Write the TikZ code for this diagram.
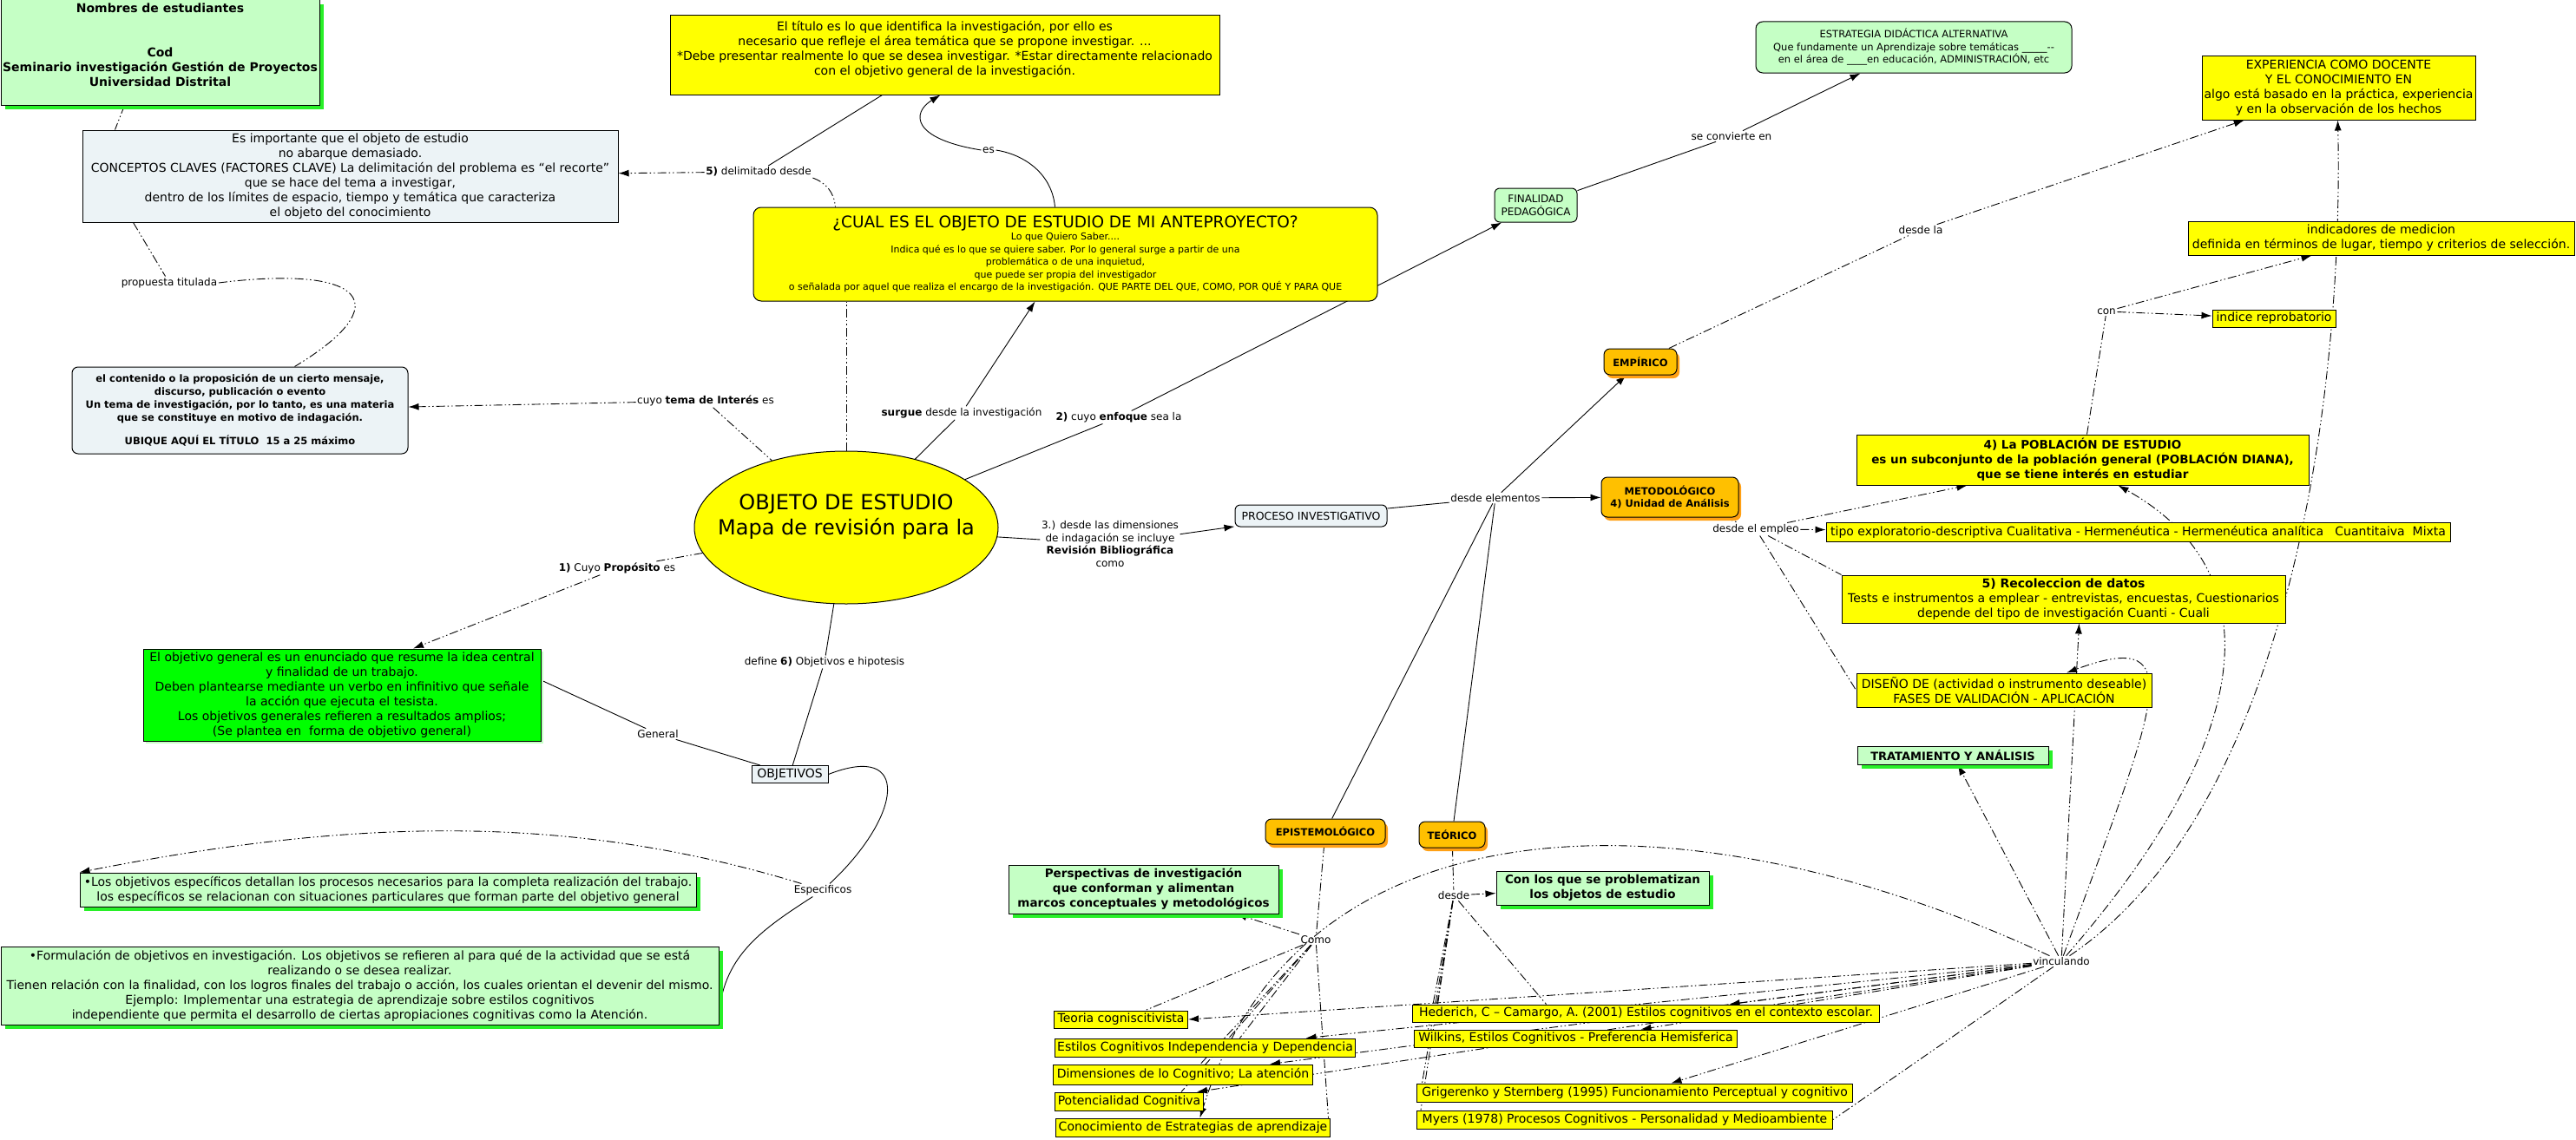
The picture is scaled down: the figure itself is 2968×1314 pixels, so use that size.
\documentclass[tikz,border=0pt]{standalone}
\usepackage{fontspec}
\setmainfont{DejaVu Sans}
\usepackage{tikz}
\usetikzlibrary{shapes.geometric, arrows.meta, positioning, calc, shadows}
\definecolor{mapyellow}{RGB}{255,255,0}
\definecolor{mappale}{RGB}{197,255,197}
\definecolor{mapshade}{RGB}{40,240,40}
\definecolor{mapgreen}{RGB}{0,255,0}
\definecolor{mapgray}{RGB}{236,243,246}
\definecolor{maporange}{RGB}{255,192,0}
\definecolor{maporshade}{RGB}{255,160,20}
\pgfdeclarelayer{background}
\pgfsetlayers{background,main}
\tikzset{
  mapbox/.style={draw, line width=1pt, inner sep=2pt, align=center, font=\fontsize{14}{17}\selectfont},
  ybox/.style={mapbox, fill=mapyellow},
  bbox/.style={mapbox, fill=mapgray},
  pbox/.style={mapbox, fill=mappale},
  gbox/.style={pbox, drop shadow={shadow xshift=5pt, shadow yshift=-5pt, fill=mapshade, opacity=1}},
  obox/.style={mapbox, fill=maporange, rounded corners=7pt, font=\bfseries\fontsize{11.5}{14}\selectfont,
               drop shadow={shadow xshift=3pt, shadow yshift=-4pt, fill=maporshade, opacity=1}},
  lbl/.style={inner sep=1.5pt, align=center, font=\fontsize{12}{14.5}\selectfont},
  link/.style={line width=0.9pt},
  dlink/.style={line width=0.9pt, dash pattern=on 10pt off 3pt on 1.5pt off 3pt on 1.5pt off 3pt},
  arr/.style={-{Latex[length=12pt,width=8pt]}},
}
\begin{document}
\begin{tikzpicture}[x=1pt,y=1pt]
    \useasboundingbox (0,0) rectangle (2968,-1314);

    % left column
    \node[gbox, minimum width=367pt, minimum height=121pt, font=\bfseries\fontsize{14}{17}\selectfont] (nombres) at (184.5,-60.5)
        {Nombres de estudiantes\\ \\ \\ Cod\\ Seminario investigación Gestión de Proyectos\\ Universidad Distrital\\ \mbox{}};
    \node[bbox, minimum width=617pt, minimum height=106pt] (importante) at (403.5,-203)
        {Es importante que el objeto de estudio\\ no abarque demasiado.\\ CONCEPTOS CLAVES (FACTORES CLAVE) La delimitación del problema es “el recorte”\\ que se hace del tema a investigar,\\ dentro de los límites de espacio, tiempo y temática que caracteriza\\ el objeto del conocimiento};
    \node[bbox, rounded corners=7pt, minimum width=387pt, minimum height=100pt, font=\bfseries\fontsize{11.5}{15}\selectfont] (contenido) at (276.5,-473)
        {el contenido o la proposición de un cierto mensaje,\\ discurso, publicación o evento\\ Un tema de investigación, por lo tanto, es una materia\\ que se constituye en motivo de indagación.\\[12pt] UBIQUE AQUÍ EL TÍTULO~~15 a 25 máximo};
    \node[mapbox, fill=mapgreen, minimum width=458pt, minimum height=106pt,
          drop shadow={shadow xshift=3pt, shadow yshift=-3pt, fill=mappale, opacity=1}] (objgen) at (394,-801)
        {El objetivo general es un enunciado que resume la idea central\\ y finalidad de un trabajo.\\ Deben plantearse mediante un verbo en infinitivo que señale\\ la acción que ejecuta el tesista.\\ Los objetivos generales refieren a resultados amplios;\\ (Se plantea en~~forma de objetivo general)};
    \node[gbox, minimum width=710pt, minimum height=39pt] (losobj) at (447,-1025.5)
        {•Los objetivos específicos detallan los procesos necesarios para la completa realización del trabajo.\\ los específicos se relacionan con situaciones particulares que forman parte del objetivo general};
    \node[gbox, minimum width=827pt, minimum height=90pt] (formul) at (414.5,-1136)
        {•Formulación de objetivos en investigación. Los objetivos se refieren al para qué de la actividad que se está\\ realizando o se desea realizar.\\ Tienen relación con la finalidad, con los logros finales del trabajo o acción, los cuales orientan el devenir del mismo.\\ Ejemplo: Implementar una estrategia de aprendizaje sobre estilos cognitivos\\ independiente que permita el desarrollo de ciertas apropiaciones cognitivas como la Atención.};

    % centre
    \node[ybox, minimum width=633pt, minimum height=91pt] (titulo) at (1088.5,-63.5)
        {El título es lo que identifica la investigación, por ello es\\ necesario que refleje el área temática que se propone investigar. ...\\ *Debe presentar realmente lo que se desea investigar. *Estar directamente relacionado\\ con el objetivo general de la investigación.\\ \mbox{}};
    \node[ybox, rounded corners=9pt, minimum width=719pt, minimum height=108pt, font=\fontsize{11}{14.5}\selectfont] (cual) at (1227.5,-293)
        {{\fontsize{18.5}{22}\selectfont ¿CUAL ES EL OBJETO DE ESTUDIO DE MI ANTEPROYECTO?}\\ Lo que Quiero Saber....\\ Indica qué es lo que se quiere saber. Por lo general surge a partir de una\\ problemática o de una inquietud,\\ que puede ser propia del investigador\\ o señalada por aquel que realiza el encargo de la investigación. QUE PARTE DEL QUE, COMO, POR QUÉ Y PARA QUE};
    \node[ellipse, draw, line width=1pt, fill=mapyellow, inner xsep=-40pt, inner ysep=0pt,
          minimum width=350pt, minimum height=176pt, align=center,
          font=\fontsize{24}{29}\selectfont] (main) at (975,-608)
        {OBJETO DE ESTUDIO\\ Mapa de revisión para la\\ \mbox{}};
    \node[bbox, inner sep=1pt, minimum width=88pt, minimum height=20pt] (objs) at (910,-892.5) {OBJETIVOS};
    \node[bbox, rounded corners=6pt, minimum width=175pt, minimum height=25pt, font=\fontsize{12.5}{15}\selectfont] (proceso) at (1510.5,-594.5) {PROCESO INVESTIGATIVO};

    % right part
    \node[pbox, rounded corners=6pt, minimum width=95pt, minimum height=39pt, font=\fontsize{12}{15}\selectfont] (final) at (1769.5,-236.5) {FINALIDAD\\ PEDAGÓGICA};
    \node[pbox, rounded corners=8pt, minimum width=364pt, minimum height=59pt, font=\fontsize{11.5}{14.5}\selectfont] (estrat) at (2205,-54.5)
        {ESTRATEGIA DIDÁCTICA ALTERNATIVA\\ Que fundamente un Aprendizaje sobre temáticas \_\_\_\_\_-{}-\\ en el área de \_\_\_\_en educación, ADMINISTRACIÓN, etc};
    \node[ybox, minimum width=315pt, minimum height=73pt] (exper) at (2694.5,-101.5)
        {EXPERIENCIA COMO DOCENTE\\ Y EL CONOCIMIENTO EN\\ algo está basado en la práctica, experiencia\\ y en la observación de los hechos};
    \node[ybox, minimum width=445pt, minimum height=39pt] (indic) at (2743.5,-274.5)
        {indicadores de medicion\\ definida en términos de lugar, tiempo y criterios de selección.};
    \node[ybox, inner sep=1pt, minimum width=142pt, minimum height=20pt] (indice) at (2620,-367) {indice reprobatorio};
    \node[obox, minimum width=84pt, minimum height=30pt] (empir) at (1890,-417) {EMPÍRICO};
    \node[obox, minimum width=158pt, minimum height=46pt] (metod) at (1924,-573) {METODOLÓGICO\\ 4) Unidad de Análisis};
    \node[ybox, minimum width=521pt, minimum height=58pt, font=\bfseries\fontsize{13.5}{17}\selectfont] (pobl) at (2399.5,-530)
        {4) La POBLACIÓN DE ESTUDIO\\ es un subconjunto de la población general (POBLACIÓN DIANA),\\ que se tiene interés en estudiar};
    \node[ybox, inner sep=1pt, minimum width=719pt, minimum height=22pt] (tipo) at (2463.5,-613)
        {tipo exploratorio-descriptiva Cualitativa - Hermenéutica - Hermenéutica analítica~~~Cuantitaiva~~Mixta};
    \node[ybox, minimum width=511pt, minimum height=55pt] (recol) at (2377.5,-690.5)
        {\textbf{5) Recoleccion de datos}\\ Tests e instrumentos a emplear - entrevistas, encuestas, Cuestionarios\\ depende del tipo de investigación Cuanti - Cuali};
    \node[ybox, minimum width=340pt, minimum height=39pt] (disen) at (2309,-795.5)
        {DISEÑO DE (actividad o instrumento deseable)\\ FASES DE VALIDACIÓN - APLICACIÓN};
    \node[gbox, inner sep=1pt, minimum width=220pt, minimum height=21pt, font=\bfseries\fontsize{13}{16}\selectfont] (tratam) at (2250,-870.5) {TRATAMIENTO Y ANÁLISIS};

    % bottom part
    \node[obox, minimum width=138pt, minimum height=29pt] (epist) at (1527,-958.5) {EPISTEMOLÓGICO};
    \node[obox, minimum width=76pt, minimum height=30pt] (teor) at (1673,-962) {TEÓRICO};
    \node[gbox, minimum width=311pt, minimum height=56pt, font=\bfseries\fontsize{13.5}{17}\selectfont] (persp) at (1317.5,-1025)
        {Perspectivas de investigación\\ que conforman y alimentan\\ marcos conceptuales y metodológicos};
    \node[gbox, minimum width=245pt, minimum height=39pt, font=\bfseries\fontsize{13.5}{17}\selectfont] (conlos) at (1846.5,-1023.5)
        {Con los que se problematizan\\ los objetos de estudio};
    \node[ybox, inner sep=1pt, anchor=west, minimum width=154pt, minimum height=20pt] (teoria) at (1214,-1175) {Teoria cogniscitivista};
    \node[ybox, inner sep=1pt, anchor=west, minimum width=346pt, minimum height=21pt] (estilos) at (1215,-1207.5) {Estilos Cognitivos Independencia y Dependencia};
    \node[ybox, inner sep=1pt, anchor=west, minimum width=299pt, minimum height=23pt] (dimen) at (1213,-1238.5) {Dimensiones de lo Cognitivo; La atención};
    \node[ybox, inner sep=1pt, anchor=west, minimum width=171pt, minimum height=21pt] (poten) at (1215,-1269.5) {Potencialidad Cognitiva};
    \node[ybox, inner sep=1pt, anchor=west, minimum width=316pt, minimum height=21pt] (conoc) at (1216,-1299.5) {Conocimiento de Estrategias de aprendizaje};
    \node[ybox, inner sep=1pt, anchor=west, minimum width=538pt, minimum height=20pt] (heder) at (1627,-1168) {Hederich, C – Camargo, A. (2001) Estilos cognitivos en el contexto escolar.};
    \node[ybox, inner sep=1pt, anchor=west, minimum width=372pt, minimum height=20pt] (wilk) at (1629,-1197) {Wilkins, Estilos Cognitivos - Preferencia Hemisferica};
    \node[ybox, inner sep=1pt, anchor=west, minimum width=502pt, minimum height=21pt] (grig) at (1632,-1259.5) {Grigerenko y Sternberg (1995) Funcionamiento Perceptual y cognitivo};
    \node[ybox, inner sep=1pt, anchor=west, minimum width=479pt, minimum height=21pt] (myers) at (1632,-1290.5) {Myers (1978) Procesos Cognitivos - Personalidad y Medioambiente};

    % linking phrases
    \node[lbl] (lprop) at (195,-326) {propuesta titulada};
    \node[lbl] (ldelim) at (874,-198) {\textbf{5)} delimitado desde};
    \node[lbl] (les) at (1139,-173) {es};
    \node[lbl] (ltema) at (813,-462) {cuyo \textbf{tema de Interés} es};
    \node[lbl] (lsurgue) at (1108,-476) {\textbf{surgue} desde la investigación};
    \node[lbl] (lenfoque) at (1289,-481) {\textbf{2)} cuyo \textbf{enfoque} sea la};
    \node[lbl] (lproposito) at (711,-655) {\textbf{1)} Cuyo \textbf{Propósito} es};
    \node[lbl] (ldim) at (1279,-627) {3.) desde las dimensiones\\ de indagación se incluye\\ \textbf{Revisión Bibliográfica}\\ como};
    \node[lbl] (ldefine) at (950,-763) {define \textbf{6)} Objetivos e hipotesis};
    \node[lbl] (lgeneral) at (758,-846) {General};
    \node[lbl] (lespec) at (948,-1026) {Especificos};
    \node[lbl] (lconv) at (1995,-157) {se convierte en};
    \node[lbl] (ldesdela) at (2213,-265) {desde la};
    \node[lbl] (lcon) at (2427,-359) {con};
    \node[lbl] (lelem) at (1723,-574) {desde elementos};
    \node[lbl] (lempleo) at (2023,-610) {desde el empleo};
    \node[lbl] (lcomo) at (1516,-1083) {Como};
    \node[lbl] (ldesde) at (1675,-1032) {desde};
    \node[lbl] (lvinc) at (2375,-1108) {vinculando};

    \begin{pgfonlayer}{background}
        \fill[white] (0,0) rectangle (2968,-1314);
        % upper left
        \draw[dlink] ([xshift=-41pt]nombres.south) -- ([xshift=-271pt]importante.north);
        \draw[dlink] ([xshift=-250pt]importante.south) -- (lprop);
        \draw[dlink] (lprop.east) .. controls (420,-305) and (460,-350) .. ([xshift=63pt]contenido.north);
        \draw[dlink] (ltema) -- (main);
        \draw[dlink, arr] (ltema) -- (contenido);
        \draw[link] ([xshift=-72pt]titulo.south) -- (ldelim);
        \draw[dlink, arr] (ldelim) -- (importante);
        \draw[dlink] (ldelim.south east) to[out=-20, in=95] ([xshift=-265pt]cual.north);
        \draw[link] ([xshift=-12pt]cual.north) .. controls (1212,-200) and (1180,-178) .. (les.east);
        \draw[link, arr] (les.west) .. controls (1050,-160) and (1050,-130) .. ([xshift=-5pt]titulo.south);
        % around the ellipse
        \draw[dlink] (main.north) -- (main.north |- cual.south);
        \draw[link] (main) -- (lsurgue);
        \draw[link, arr] (lsurgue) -- ([xshift=-35pt]cual.south);
        \draw[link] (main) -- (lenfoque);
        \draw[link, arr] (lenfoque) -- (final);
        \draw[dlink] (main) -- (lproposito);
        \draw[dlink, arr] (lproposito) -- ([xshift=82pt]objgen.north);
        \draw[link] (main) -- (ldefine);
        \draw[link] (ldefine) -- (objs);
        \draw[link] (objs) -- (lgeneral);
        \draw[link] (lgeneral) -- ([yshift=17pt]objgen.east);
        \draw[link] (objs.east) .. controls (1050,-855) and (1040,-940) .. (lespec);
        \draw[dlink, arr] (lespec) .. controls (650,-935) and (400,-945) .. (losobj.north west);
        \draw[link] (lespec) .. controls (880,-1070) and (835,-1100) .. ([yshift=-31pt]formul.east);
        \draw[link] (main) -- (ldim);
        \draw[link, arr] (ldim) -- (proceso);
        % process
        \draw[link] (proceso) -- (lelem);
        \draw[link, arr] (lelem) -- (metod);
        \draw[link, arr] (lelem) -- (empir);
        \draw[link] (lelem) -- (epist);
        \draw[link] (lelem) -- (teor);
        \draw[link] (final) -- (lconv);
        \draw[link, arr] (lconv) -- (estrat);
        \draw[dlink] (empir) -- (ldesdela);
        \draw[dlink, arr] (ldesdela) -- (exper);
        \draw[dlink] (metod) -- (lempleo);
        \draw[dlink, arr] (lempleo) -- (tipo);
        \draw[dlink, arr] (lempleo) -- ([xshift=-133pt]pobl.south);
        \draw[dlink] (lempleo) -- (recol.north west);
        \draw[dlink] (lempleo) -- (disen.west);
        \draw[dlink] ([xshift=5pt]pobl.north) -- (lcon);
        \draw[dlink, arr] (lcon) -- ([xshift=-80pt]indic.south);
        \draw[dlink, arr] (lcon) -- (indice);
        % vinculando
        \draw[dlink, arr] (lvinc) -- (tratam);
        \draw[dlink, arr] (lvinc) .. controls (2480,-820) and (2530,-720) .. ([xshift=72pt]disen.north);
        \draw[dlink, arr] (lvinc) -- ([xshift=18pt]recol.south);
        \draw[dlink, arr] (lvinc) .. controls (2600,-850) and (2620,-660) .. ([xshift=41pt]pobl.south);
        \draw[dlink, arr] (lvinc) .. controls (2640,-930) and (2700,-450) .. ([xshift=-1pt]exper.south);
        \draw[dlink, arr] (lvinc) -- (teoria.east);
        \foreach \tgt/\dx in {estilos/116, dimen/100, poten/78, heder/96, wilk/75, grig/42}
            \draw[dlink, arr] (lvinc) -- ([xshift=\dx pt]\tgt.north);
        \draw[dlink] (lvinc) -- (myers.east);
        \draw[dlink, arr] (lvinc) .. controls (1950,-910) and (1500,-910) .. ([xshift=8pt]conoc.north);
        % como / desde
        \draw[dlink] (epist) -- (lcomo);
        \draw[dlink, arr] (lcomo) -- ([xshift=107pt]persp.south);
        \draw[dlink] (lcomo) -- ([xshift=28pt]teoria.north);
        \foreach \tgt/\dx in {estilos/40, dimen/20, poten/60, conoc/156}
            \draw[dlink] (lcomo) -- ([xshift=\dx pt]\tgt.north);
        \draw[dlink] (teor) -- (ldesde);
        \draw[dlink, arr] (ldesde) -- (conlos);
        \foreach \tgt/\dx in {heder/-115, heder/-240, wilk/-170, grig/-245, myers/-235}
            \draw[dlink] (ldesde) -- ([xshift=\dx pt]\tgt.north);
    \end{pgfonlayer}
\end{tikzpicture}
\end{document}
